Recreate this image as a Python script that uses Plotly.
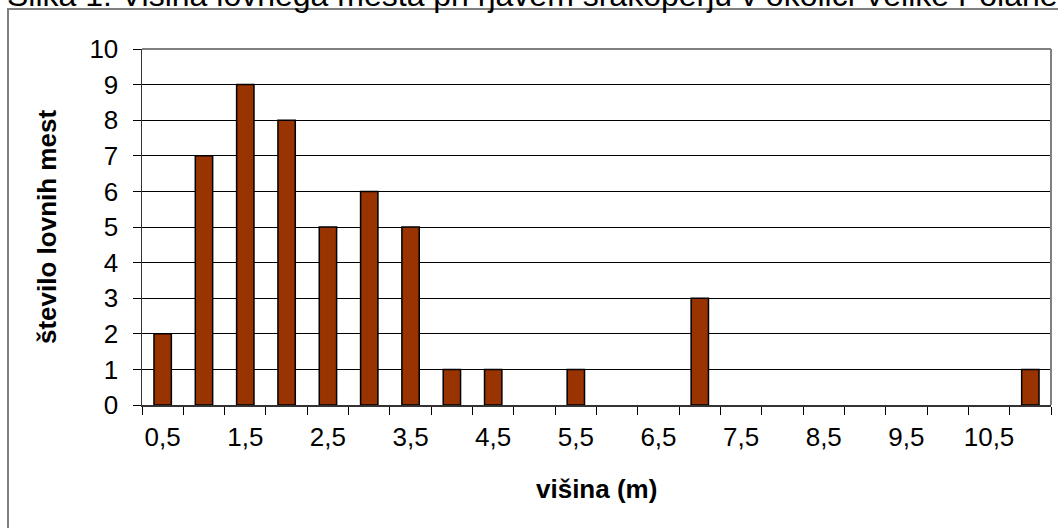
import plotly.graph_objects as go

# data
heights = [0.5, 1, 1.5, 2, 2.5, 3, 3.5, 4, 4.5, 5, 5.5, 6, 6.5, 7, 7.5, 8, 8.5, 9, 9.5, 10, 10.5, 11]
counts = [2, 7, 9, 8, 5, 6, 5, 1, 1, 0, 1, 0, 0, 3, 0, 0, 0, 0, 0, 0, 0, 1]
tick_positions = [0.5, 1.5, 2.5, 3.5, 4.5, 5.5, 6.5, 7.5, 8.5, 9.5, 10.5]
tick_labels = ["0,5", "1,5", "2,5", "3,5", "4,5", "5,5", "6,5", "7,5", "8,5", "9,5", "10,5"]
y_ticks = list(range(0, 11))

title_text = "Slika 1: Višina lovnega mesta pri rjavem srakoperju v okolici Velike Polane"
x_title = "višina (m)"
y_title = "število lovnih mest"

FONT = "Liberation Sans, Arial, sans-serif"

# zero-height bars are not drawn (no outline)
bar_y = [c if c > 0 else None for c in counts]

fig = go.Figure()
fig.add_trace(go.Bar(
    x=heights, y=bar_y, width=0.21,
    marker=dict(color="#993300", line=dict(color="black", width=1.5)),
    showlegend=False, hoverinfo="skip",
))

W, H = 1058, 528
L, R, T, B = 142, 7, 49, 123
pw = W - L - R
ph = H - T - B

def px_x(p):
    return (p - L) / pw

def px_y(p):
    return (H - B - p) / ph

fig.update_layout(
    width=W, height=H,
    margin=dict(l=L, r=R, t=T, b=B, pad=0),
    paper_bgcolor="white", plot_bgcolor="white",
    font=dict(family=FONT, size=26, color="black"),
    xaxis=dict(
        range=[0.25, 11.25],
        tickmode="array", tickvals=tick_positions, ticktext=tick_labels,
        ticks="outside", ticklen=0, showgrid=False, zeroline=False,
        showline=True, linecolor="#333333", linewidth=1.5,
        minor=dict(tick0=0.25, dtick=0.5, ticks="outside", ticklen=8,
                   tickcolor="black", tickwidth=1, showgrid=False),
        ticklabelstandoff=8,
        tickfont=dict(size=26),
    ),
    yaxis=dict(
        range=[0, 10], tickmode="array", tickvals=y_ticks,
        ticks="outside", ticklen=8, tickcolor="black", tickwidth=1,
        showgrid=True, gridcolor="black", gridwidth=1, zeroline=False,
        showline=True, linecolor="#333333", linewidth=1.5,
        ticklabelstandoff=9,
        tickfont=dict(size=26),
    ),
    bargap=0,
)

shapes = [
    # outer chart border
    dict(type="rect", xref="paper", yref="paper",
         x0=px_x(8), x1=px_x(1100), y0=px_y(560), y1=px_y(9),
         line=dict(color="#808080", width=2), fillcolor="rgba(0,0,0,0)", layer="below"),
    # plot area top & right border
    dict(type="line", xref="paper", yref="paper", x0=0, x1=1, y0=1, y1=1,
         line=dict(color="#808080", width=2)),
    dict(type="line", xref="paper", yref="paper", x0=1, x1=1, y0=0, y1=1,
         line=dict(color="#808080", width=2)),
]
fig.update_layout(shapes=shapes)

fig.add_annotation(text=title_text, xref="paper", yref="paper",
                   x=px_x(5), y=px_y(15), xanchor="left", yanchor="bottom",
                   showarrow=False, font=dict(size=32, family=FONT))
fig.add_annotation(text="<b>" + x_title + "</b>", xref="paper", yref="paper",
                   x=0.5, y=px_y(489), xanchor="center", yanchor="middle",
                   showarrow=False, font=dict(size=26, family=FONT))
fig.add_annotation(text="<b>" + y_title + "</b>", xref="paper", yref="paper",
                   x=px_x(47), y=0.5, xanchor="center", yanchor="middle",
                   textangle=-90, showarrow=False, font=dict(size=26, family=FONT))

fig.write_html("out.html", config={"displayModeBar": False, "staticPlot": True})

# remove default page margin so the figure sits at the window's top-left corner
with open("out.html", encoding="utf-8") as f:
    html = f.read()
html = html.replace("<head>", "<head><style>html,body{margin:0;padding:0;overflow:hidden;}</style>", 1)
with open("out.html", "w", encoding="utf-8") as f:
    f.write(html)
